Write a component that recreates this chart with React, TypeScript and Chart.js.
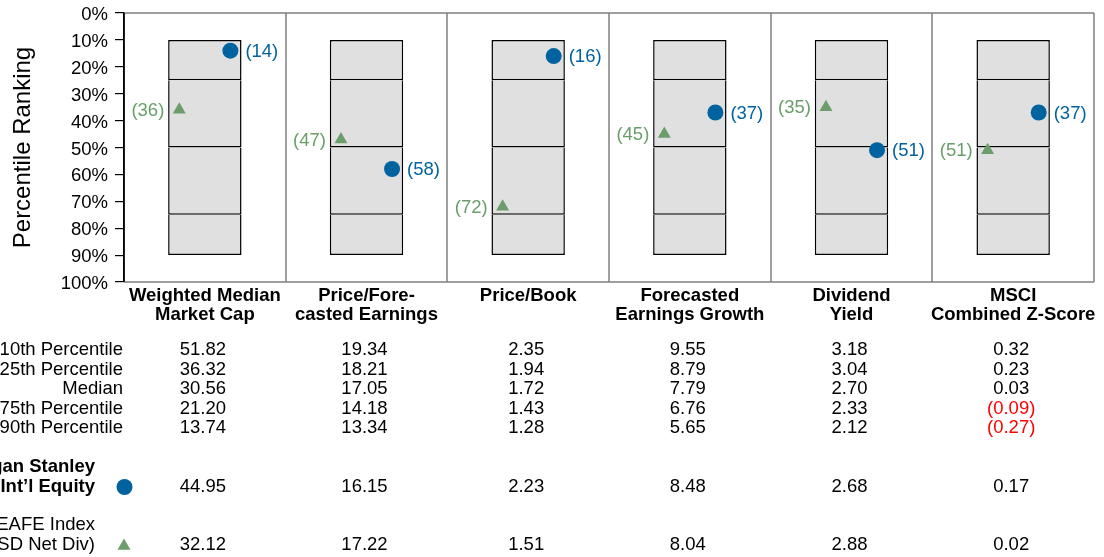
import React, { useEffect, useRef } from 'react';
import { Chart, registerables } from 'chart.js';

Chart.register(...registerables);

// ---------- data ----------
const categories: string[][] = [
  ['Weighted Median', 'Market Cap'],
  ['Price/Fore-', 'casted Earnings'],
  ['Price/Book'],
  ['Forecasted', 'Earnings Growth'],
  ['Dividend', 'Yield'],
  ['MSCI', 'Combined Z-Score'],
];
const yTickValues = [0, 10, 20, 30, 40, 50, 60, 70, 80, 90, 100];
const boxSegments: number[][] = [
  [10, 25],
  [25, 50],
  [50, 75],
  [75, 90],
];
const portfolioRank = [14, 58, 16, 37, 51, 37];
const indexRank = [36, 47, 72, 45, 35, 51];

const rowLabels = ['10th Percentile', '25th Percentile', 'Median', '75th Percentile', '90th Percentile'];
const p10 = [51.82, 19.34, 2.35, 9.55, 3.18, 0.32];
const p25 = [36.32, 18.21, 1.94, 8.79, 3.04, 0.23];
const median = [30.56, 17.05, 1.72, 7.79, 2.7, 0.03];
const p75 = [21.2, 14.18, 1.43, 6.76, 2.33, -0.09];
const p90 = [13.74, 13.34, 1.28, 5.65, 2.12, -0.27];
const portfolioName = ['Morgan Stanley', 'Int\u2019l Equity'];
const indexName = ['MSCI EAFE Index', '(USD Net Div)'];
const portfolioValues = [44.95, 16.15, 2.23, 8.48, 2.68, 0.17];
const indexValues = [32.12, 17.22, 1.51, 8.04, 2.88, 0.02];

// ---------- styles ----------
const FONT = "'Liberation Sans', Arial, Helvetica, sans-serif";
const BLUE = '#00639f';
const GREEN = '#6b9e6b';
const GRAY_LINE = '#808080';
const BOX_FILL = '#e0e0e0';
const MARKER_SHIFT = 0.158;

const fmt = (v: number) => (v < 0 ? `(${Math.abs(v).toFixed(2)})` : v.toFixed(2));

function drawCircle(ctx: CanvasRenderingContext2D, x: number, y: number, r: number, color: string) {
  ctx.beginPath();
  ctx.arc(x, y, r, 0, Math.PI * 2);
  ctx.fillStyle = color;
  ctx.fill();
}
function drawTriangle(ctx: CanvasRenderingContext2D, x: number, y: number, r: number, color: string) {
  ctx.beginPath();
  let a = 0;
  ctx.moveTo(x + Math.sin(a) * r, y - Math.cos(a) * r);
  a += (2 * Math.PI) / 3;
  ctx.lineTo(x + Math.sin(a) * r, y - Math.cos(a) * r);
  a += (2 * Math.PI) / 3;
  ctx.lineTo(x + Math.sin(a) * r, y - Math.cos(a) * r);
  ctx.closePath();
  ctx.fillStyle = color;
  ctx.fill();
}

const framePlugin = {
  id: 'frame',
  beforeDatasetsDraw(chart: any) {
    const { ctx, chartArea } = chart;
    const xp = chart.scales.xp;
    ctx.save();
    ctx.strokeStyle = GRAY_LINE;
    ctx.lineWidth = 1.5;
    ctx.beginPath();
    ctx.moveTo(chartArea.left, chartArea.top);
    ctx.lineTo(chartArea.right, chartArea.top);
    ctx.moveTo(chartArea.left, chartArea.bottom);
    ctx.lineTo(chartArea.right, chartArea.bottom);
    for (let i = 0; i < categories.length; i++) {
      const bx = Math.round(xp.getPixelForValue(i + 0.5));
      ctx.moveTo(bx, chartArea.top);
      ctx.lineTo(bx, chartArea.bottom);
    }
    ctx.stroke();
    ctx.strokeStyle = '#000';
    ctx.beginPath();
    ctx.moveTo(chartArea.left, chartArea.top);
    ctx.lineTo(chartArea.left, chartArea.bottom);
    ctx.stroke();
    ctx.restore();
  },
};

const pointLabelPlugin = {
  id: 'pointLabels',
  afterDatasetsDraw(chart: any) {
    const { ctx } = chart;
    ctx.save();
    ctx.font = `18.5px ${FONT}`;
    ctx.textBaseline = 'middle';
    chart.data.datasets.forEach((ds: any, di: number) => {
      if (!ds.labelSide) return;
      const meta = chart.getDatasetMeta(di);
      meta.data.forEach((el: any, i: number) => {
        const v = ds.data[i].y;
        const text = `(${v})`;
        if (ds.labelSide === 'right') {
          ctx.textAlign = 'left';
          ctx.fillStyle = BLUE;
          ctx.fillText(text, el.x + 15, el.y + 1);
        } else {
          ctx.textAlign = 'right';
          ctx.fillStyle = GREEN;
          ctx.fillText(text, el.x - 15, el.y + 1);
        }
      });
    });
    ctx.restore();
  },
};

const tablePlugin = {
  id: 'statTable',
  afterDraw(chart: any) {
    const { ctx } = chart;
    const xp = chart.scales.xp;
    const colX = (i: number) => xp.getPixelForValue(i) - 2;
    const rowsData = [p10, p25, median, p75, p90];
    ctx.save();
    ctx.textBaseline = 'middle';
    ctx.font = `18.5px ${FONT}`;
    rowsData.forEach((arr, r) => {
      const y = 350 + r * 19.5;
      ctx.textAlign = 'right';
      ctx.fillStyle = '#000';
      ctx.fillText(rowLabels[r], 123, y);
      ctx.textAlign = 'center';
      arr.forEach((v, i) => {
        ctx.fillStyle = v < 0 ? '#ff0000' : '#000';
        ctx.fillText(fmt(v), colX(i), y);
      });
    });
    // portfolio
    ctx.font = `bold 18.5px ${FONT}`;
    ctx.textAlign = 'right';
    ctx.fillStyle = '#000';
    ctx.fillText(portfolioName[0], 95, 467);
    ctx.fillText(portfolioName[1], 95, 487);
    drawCircle(ctx, 124.5, 487, 8, BLUE);
    ctx.font = `18.5px ${FONT}`;
    ctx.textAlign = 'center';
    portfolioValues.forEach((v, i) => {
      ctx.fillStyle = v < 0 ? '#ff0000' : '#000';
      ctx.fillText(fmt(v), colX(i), 487);
    });
    // index
    ctx.textAlign = 'right';
    ctx.fillStyle = '#000';
    ctx.fillText(indexName[0], 95, 525);
    ctx.fillText(indexName[1], 95, 545);
    drawTriangle(ctx, 124, 546, 7.5, GREEN);
    ctx.textAlign = 'center';
    indexValues.forEach((v, i) => {
      ctx.fillStyle = v < 0 ? '#ff0000' : '#000';
      ctx.fillText(fmt(v), colX(i), 545);
    });
    ctx.restore();
  },
};

export default function App() {
  const canvasRef = useRef<HTMLCanvasElement | null>(null);

  useEffect(() => {
    if (!canvasRef.current) return;
    const barSets = boxSegments.map((seg, si) => ({
      type: 'bar' as const,
      data: categories.map(() => seg),
      backgroundColor: BOX_FILL,
      borderColor: '#000',
      borderWidth: { top: si === 0 ? 1.5 : 0, bottom: 1.5, left: 1.5, right: 1.5 },
      borderSkipped: false,
      grouped: false,
      barPercentage: 0.454,
      categoryPercentage: 1,
      xAxisID: 'x',
      yAxisID: 'y',
      order: 2,
    }));
    const chart = new Chart(canvasRef.current, {
      type: 'bar',
      data: {
        labels: categories,
        datasets: [
          ...barSets,
          {
            type: 'scatter',
            data: portfolioRank.map((v, i) => ({ x: i + MARKER_SHIFT, y: v })),
            pointStyle: 'circle',
            pointRadius: 8,
            backgroundColor: BLUE,
            borderColor: BLUE,
            borderWidth: 0,
            xAxisID: 'xp',
            yAxisID: 'y',
            labelSide: 'right',
            order: 1,
          } as any,
          {
            type: 'scatter',
            data: indexRank.map((v, i) => ({ x: i - MARKER_SHIFT, y: v })),
            pointStyle: 'triangle',
            pointRadius: 7.5,
            backgroundColor: GREEN,
            borderColor: GREEN,
            borderWidth: 0,
            xAxisID: 'xp',
            yAxisID: 'y',
            labelSide: 'left',
            order: 1,
          } as any,
        ],
      },
      options: {
        animation: false,
        responsive: false,
        devicePixelRatio: 1,
        layout: { padding: { top: 13, right: 10, left: 0, bottom: 0 } },
        plugins: {
          legend: { display: false },
          tooltip: { enabled: false },
        },
        scales: {
          x: {
            type: 'category',
            offset: true,
            grid: { display: false, drawTicks: false },
            border: { display: false },
            ticks: {
              font: { family: FONT, size: 18.5, weight: 'bold', lineHeight: 1.03 },
              color: '#000',
              padding: 4,
              maxRotation: 0,
              minRotation: 0,
              autoSkip: false,
            },
            afterFit: (scale: any) => {
              scale.height = 275;
            },
          },
          xp: {
            type: 'linear',
            display: false,
            offset: false,
            grid: { offset: false },
            min: -0.5,
            max: 5.5,
            position: 'bottom',
          },
          y: {
            type: 'linear',
            reverse: true,
            min: 0,
            max: 100,
            afterBuildTicks: (scale: any) => {
              scale.ticks = yTickValues.map((v) => ({ value: v }));
            },
            grid: {
              drawOnChartArea: false,
              drawTicks: true,
              tickLength: 9,
              color: '#000',
              lineWidth: 1.2,
            },
            border: { display: true, color: '#000', width: 1.5 },
            ticks: {
              callback: (v: any) => `${v}%`,
              font: { family: FONT, size: 18.5, lineHeight: 0.6 },
              color: '#000',
              padding: 7,
              labelOffset: 2,
            },
            title: {
              display: true,
              text: 'Percentile Ranking',
              font: { family: FONT, size: 24 },
              color: '#000',
              padding: { top: 9, bottom: 0 },
            },
            afterFit: (scale: any) => {
              scale.width = 124;
            },
          },
        },
      } as any,
      plugins: [framePlugin, pointLabelPlugin, tablePlugin],
    });
    return () => chart.destroy();
  }, []);

  return (
    <div style={{ position: 'fixed', left: 0, top: 0, width: 1104, height: 557, background: '#fff' }}>
      <canvas ref={canvasRef} width={1104} height={557} style={{ width: 1104, height: 557, display: 'block' }} />
    </div>
  );
}
